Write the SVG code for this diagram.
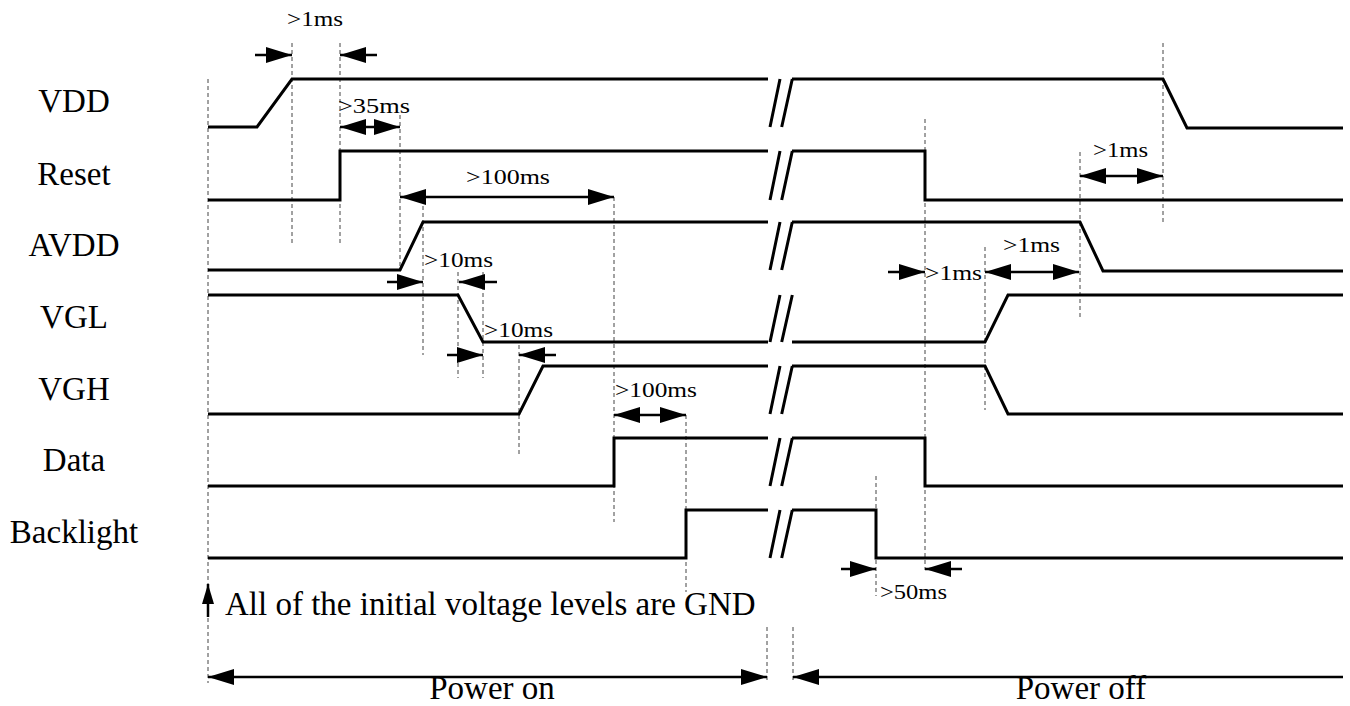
<svg xmlns="http://www.w3.org/2000/svg" width="1350" height="706" viewBox="0 0 1350 706">
<style>
.sig{fill:none;stroke:#000;stroke-width:3;stroke-linejoin:miter}
.brk{fill:none;stroke:#000;stroke-width:3}
.dash{fill:none;stroke:#444;stroke-width:1;stroke-dasharray:4 3}
.arr{fill:none;stroke:#000;stroke-width:2.5}
.lbl{font-family:"Liberation Serif","Times New Roman",serif;font-size:33px;fill:#000}
.sm{font-family:"Liberation Serif","Times New Roman",serif;font-size:22px;fill:#000}
</style>
<defs>
<marker id="ah" markerUnits="userSpaceOnUse" markerWidth="26" markerHeight="16" refX="26" refY="8" orient="auto-start-reverse" viewBox="0 0 26 16">
<path d="M0,0 L26,8 L0,16 z" fill="#000"/>
</marker>
<marker id="ahs" markerUnits="userSpaceOnUse" markerWidth="20" markerHeight="12" refX="20" refY="6" orient="auto" viewBox="0 0 20 12">
<path d="M0,0 L20,6 L0,12 z" fill="#000"/>
</marker>
</defs>
<rect width="1350" height="706" fill="#fff"/>

<g id="guides">
<line class="dash" x1="208" y1="79" x2="208" y2="683"/>
<line class="dash" x1="292" y1="43" x2="292" y2="245"/>
<line class="dash" x1="340" y1="43" x2="340" y2="245"/>
<line class="dash" x1="400" y1="115" x2="400" y2="268"/>
<line class="dash" x1="423" y1="206" x2="423" y2="355"/>
<line class="dash" x1="458" y1="272" x2="458" y2="378"/>
<line class="dash" x1="483" y1="272" x2="483" y2="378"/>
<line class="dash" x1="519" y1="345" x2="519" y2="455"/>
<line class="dash" x1="614" y1="197" x2="614" y2="522"/>
<line class="dash" x1="686" y1="415" x2="686" y2="592"/>
<line class="dash" x1="876" y1="476" x2="876" y2="596"/>
<line class="dash" x1="925" y1="119" x2="925" y2="570"/>
<line class="dash" x1="985" y1="247" x2="985" y2="410"/>
<line class="dash" x1="1080" y1="152" x2="1080" y2="318"/>
<line class="dash" x1="1163" y1="43" x2="1163" y2="223"/>
<line class="dash" x1="767" y1="627" x2="767" y2="680"/>
<line class="dash" x1="793" y1="627" x2="793" y2="680"/>
</g>

<g id="VDD">
<text class="lbl" x="74" y="112" text-anchor="middle">VDD</text>
<path class="sig" d="M208,127 H257 L292,79 H768"/>
<path class="sig" d="M792,79 H1163 L1187,128 H1343"/>
<path class="brk" d="M770,127 L780,79 M781.7,127 L792.3,79"/>
</g>
<g id="Reset">
<text class="lbl" x="74" y="185" text-anchor="middle">Reset</text>
<path class="sig" d="M208,200 H340 V151 H768"/>
<path class="sig" d="M792,151 H925 V200 H1343"/>
<path class="brk" d="M770,200 L780,151 M781.7,200 L792.3,151"/>
</g>
<g id="AVDD">
<text class="lbl" x="74" y="256" text-anchor="middle">AVDD</text>
<path class="sig" d="M208,270 H400 L423,222 H768"/>
<path class="sig" d="M792,222 H1080 L1103,271 H1343"/>
<path class="brk" d="M770,270 L780,222 M781.7,270 L792.3,222"/>
</g>
<g id="VGL">
<text class="lbl" x="74" y="328" text-anchor="middle">VGL</text>
<path class="sig" d="M208,295 H458 L483,342 H768"/>
<path class="sig" d="M792,342 H985 L1008,295 H1343"/>
<path class="brk" d="M770,342 L780,295 M781.7,342 L792.3,295"/>
</g>
<g id="VGH">
<text class="lbl" x="74" y="400" text-anchor="middle">VGH</text>
<path class="sig" d="M208,414 H519 L543,366 H768"/>
<path class="sig" d="M792,366 H985 L1008,414 H1343"/>
<path class="brk" d="M770,414 L780,366 M781.7,414 L792.3,366"/>
</g>
<g id="Data">
<text class="lbl" x="74" y="471" text-anchor="middle">Data</text>
<path class="sig" d="M208,486 H614 V438 H768"/>
<path class="sig" d="M792,438 H925 V486 H1343"/>
<path class="brk" d="M770,486 L780,438 M781.7,486 L792.3,438"/>
</g>
<g id="Backlight">
<text class="lbl" x="74" y="543" text-anchor="middle">Backlight</text>
<path class="sig" d="M208,558 H686 V510 H768"/>
<path class="sig" d="M792,510 H876 V558 H1343"/>
<path class="brk" d="M770,558 L780,510 M781.7,558 L792.3,510"/>
</g>

<g id="connectors">
<line class="arr" x1="255" y1="55" x2="292" y2="55" marker-end="url(#ah)"/>
<line class="arr" x1="377" y1="55" x2="340" y2="55" marker-end="url(#ah)"/>
<line class="arr" x1="340" y1="127" x2="400" y2="127" marker-start="url(#ah)" marker-end="url(#ah)"/>
<line class="arr" x1="400" y1="197" x2="614" y2="197" marker-start="url(#ah)" marker-end="url(#ah)"/>
<line class="arr" x1="387" y1="282" x2="423" y2="282" marker-end="url(#ah)"/>
<line class="arr" x1="497" y1="282" x2="459" y2="282" marker-end="url(#ah)"/>
<line class="arr" x1="447" y1="355" x2="483" y2="355" marker-end="url(#ah)"/>
<line class="arr" x1="556" y1="355" x2="519" y2="355" marker-end="url(#ah)"/>
<line class="arr" x1="614" y1="415" x2="686" y2="415" marker-start="url(#ah)" marker-end="url(#ah)"/>
<line class="arr" x1="1080" y1="176" x2="1163" y2="176" marker-start="url(#ah)" marker-end="url(#ah)"/>
<line class="arr" x1="888" y1="272" x2="925" y2="272" marker-end="url(#ah)"/>
<line class="arr" x1="985" y1="272" x2="1079" y2="272" marker-start="url(#ah)" marker-end="url(#ah)"/>
<line class="arr" x1="841" y1="569" x2="876" y2="569" marker-end="url(#ah)"/>
<line class="arr" x1="962" y1="569" x2="925" y2="569" marker-end="url(#ah)"/>
<line class="arr" x1="208" y1="617" x2="208" y2="584" marker-end="url(#ahs)"/>
<line class="arr" x1="208" y1="677" x2="767" y2="677" marker-start="url(#ah)" marker-end="url(#ah)"/>
<line class="arr" x1="1343" y1="677" x2="793" y2="677" marker-end="url(#ah)"/>
</g>

<g id="timing-labels">
<text class="sm" x="287" y="26" textLength="56" lengthAdjust="spacingAndGlyphs">&gt;1ms</text>
<text class="sm" x="338" y="113" textLength="72" lengthAdjust="spacingAndGlyphs">&gt;35ms</text>
<text class="sm" x="466" y="184" textLength="84" lengthAdjust="spacingAndGlyphs">&gt;100ms</text>
<text class="sm" x="424" y="267" textLength="69" lengthAdjust="spacingAndGlyphs">&gt;10ms</text>
<text class="sm" x="484" y="337" textLength="69" lengthAdjust="spacingAndGlyphs">&gt;10ms</text>
<text class="sm" x="615" y="397" textLength="82" lengthAdjust="spacingAndGlyphs">&gt;100ms</text>
<text class="sm" x="1093" y="157" textLength="55" lengthAdjust="spacingAndGlyphs">&gt;1ms</text>
<text class="sm" x="925" y="280" textLength="57" lengthAdjust="spacingAndGlyphs">&gt;1ms</text>
<text class="sm" x="1003" y="252" textLength="57" lengthAdjust="spacingAndGlyphs">&gt;1ms</text>
<text class="sm" x="880" y="599" textLength="67" lengthAdjust="spacingAndGlyphs">&gt;50ms</text>
</g>

<g id="notes">
<text class="lbl" x="225" y="615">All of the initial voltage levels are GND</text>
<text class="lbl" x="492" y="699" text-anchor="middle">Power on</text>
<text class="lbl" x="1081" y="699" text-anchor="middle">Power off</text>
</g>
</svg>
